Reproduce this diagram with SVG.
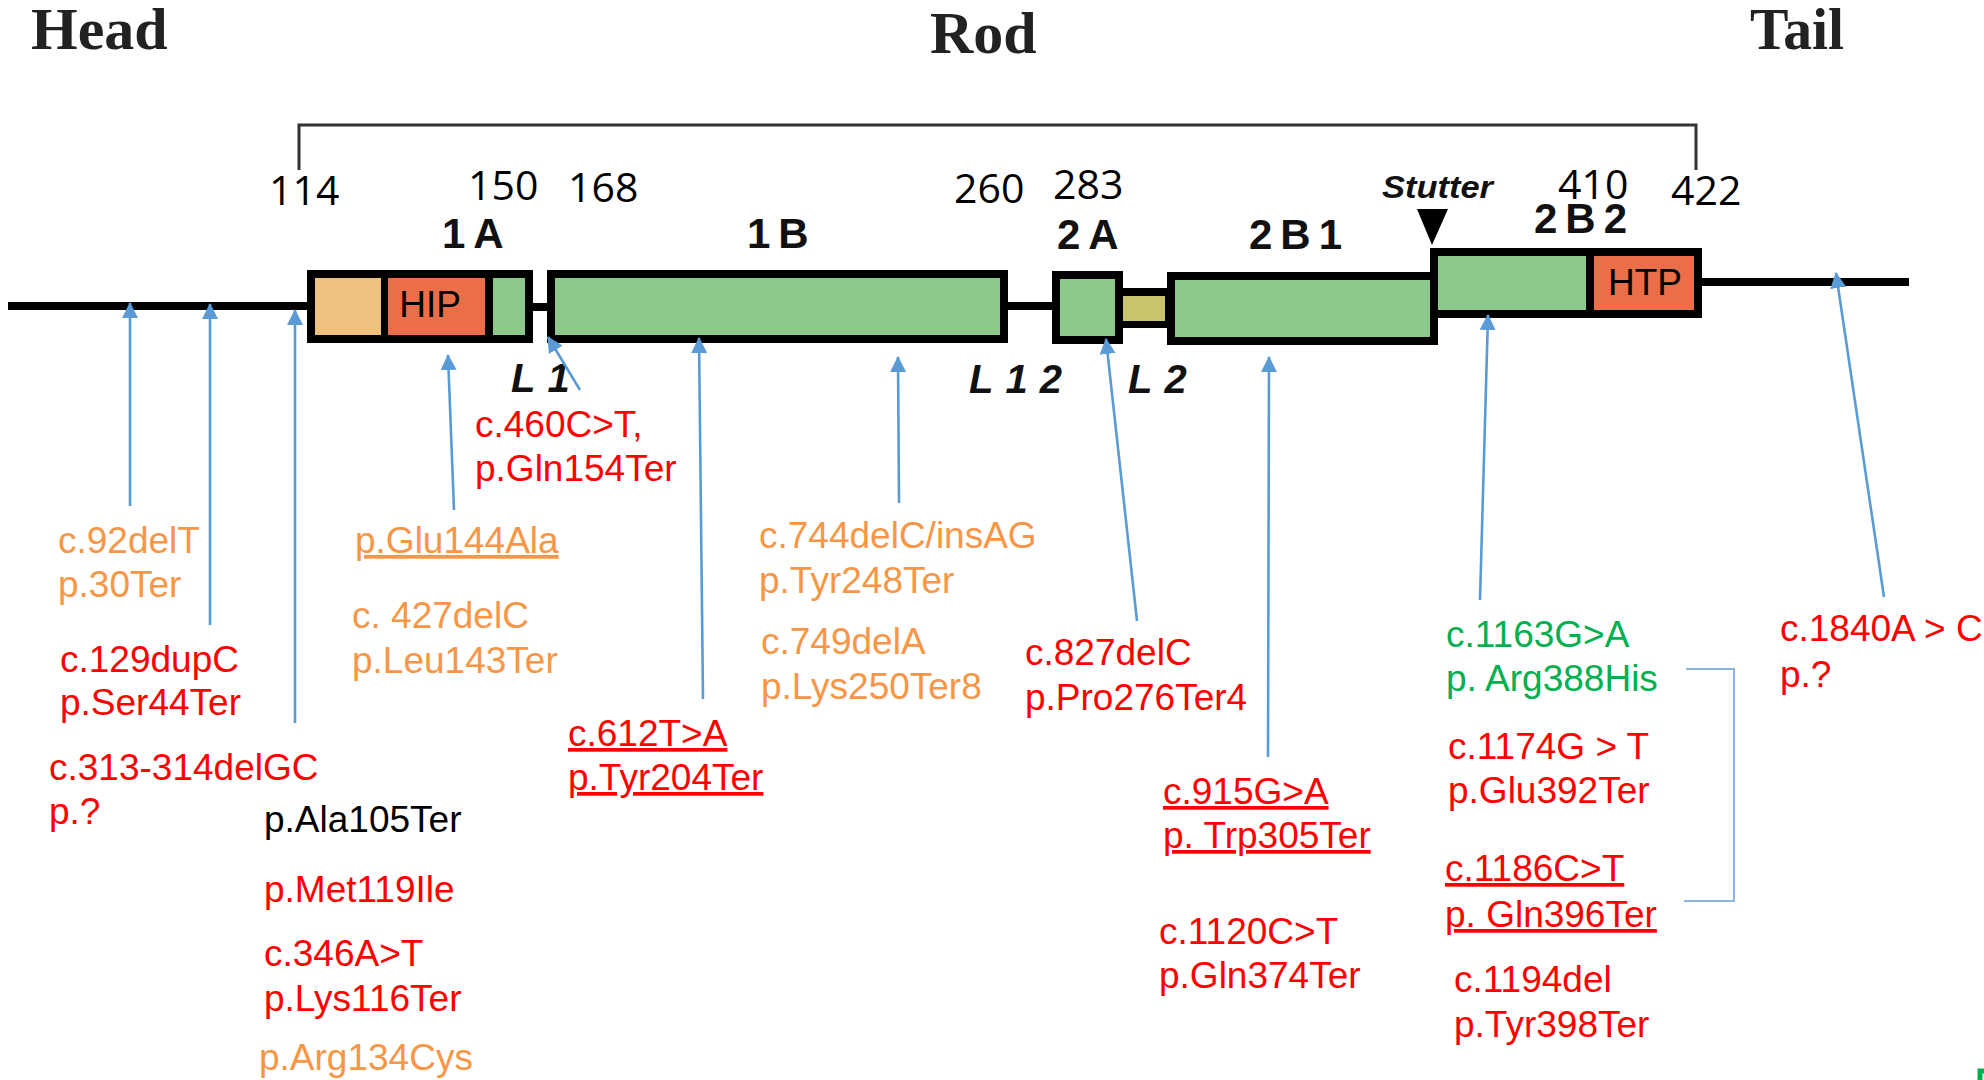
<svg xmlns="http://www.w3.org/2000/svg" width="1984" height="1080" viewBox="0 0 1984 1080">
<defs>
<style>
.hdr{font-family:"Liberation Serif",serif;font-weight:bold;font-size:60px;fill:#222}
.num{font-family:"Open Sans","Liberation Sans",sans-serif;font-size:41px;fill:#000}
.dom{font-family:"Liberation Sans",Arial,sans-serif;font-weight:bold;font-size:42px;letter-spacing:8px;fill:#111}
.lnk{font-family:"Liberation Sans",Arial,sans-serif;font-weight:bold;font-style:italic;font-size:40px;letter-spacing:12px;fill:#111}
.box{font-family:"Liberation Sans",Arial,sans-serif;font-size:37px;fill:#000;text-anchor:middle}
.t{font-family:"Liberation Sans",Arial,sans-serif;font-size:37px}
.r{fill:#FF0000}
.o{fill:#F79646}
.g{fill:#00B050}
.k{fill:#000}
.u{text-decoration:underline}
.blk{fill:#000}
.grn{fill:#8DC88B}
.tan{fill:#EEC27E}
.hp{fill:#EA6E48}
.kh{fill:#C8C46E}
.ln{stroke:#000;stroke-width:8;fill:none}
.arr{stroke:#5B9BD5;stroke-width:2.6;fill:none;marker-end:url(#ah)}
</style>
<marker id="ah" markerUnits="userSpaceOnUse" markerWidth="16" markerHeight="16" viewBox="0 0 16 16" refX="15" refY="8" orient="auto">
<path d="M0,0 L16,8 L0,16 Z" fill="#5B9BD5"/>
</marker>
</defs>
<rect x="0" y="0" width="1984" height="1080" fill="#FFFFFF"/>

<g id="headers">
<text class="hdr" x="31" y="49">Head</text>
<text class="hdr" x="930" y="53">Rod</text>
<text class="hdr" x="1750" y="49" textLength="94" lengthAdjust="spacingAndGlyphs">Tail</text>
</g>

<g id="bracket">
<path d="M299,170 V125 H1696 V170" stroke="#333" stroke-width="3" fill="none"/>
</g>

<g id="positions">
<text class="num" x="269" y="205">114</text>
<text class="num" x="468" y="200">150</text>
<text class="num" x="568" y="202">168</text>
<text class="num" x="954" y="203">260</text>
<text class="num" x="1053" y="199">283</text>
<text class="num" x="1558" y="199">410</text>
<text class="num" x="1671" y="205">422</text>
</g>

<g id="backbone">
<line class="ln" x1="8" y1="306" x2="310" y2="306"/>
<line class="ln" x1="530" y1="307" x2="550" y2="307" stroke-width="9"/>
<line class="ln" x1="1005" y1="306" x2="1055" y2="306"/>
<line class="ln" x1="1699" y1="282" x2="1909" y2="282"/>
</g>

<g id="domain-1A">
<rect class="blk" x="307" y="270" width="226" height="73"/>
<rect class="tan" x="315" y="278" width="66" height="57"/>
<rect class="hp" x="388" y="278" width="97" height="57"/>
<rect class="grn" x="493" y="278" width="32" height="57"/>
<text class="box" x="430" y="317">HIP</text>
<text class="dom" x="442" y="248">1A</text>
</g>

<g id="domain-1B">
<rect class="blk" x="547" y="270" width="461" height="73"/>
<rect class="grn" x="555" y="278" width="445" height="57"/>
<text class="dom" x="747" y="248">1B</text>
</g>

<g id="domain-2A">
<rect class="blk" x="1052" y="271" width="71" height="73"/>
<rect class="grn" x="1060" y="279" width="55" height="57"/>
<text class="dom" x="1057" y="249">2A</text>
</g>

<g id="linker-L2">
<rect class="blk" x="1120" y="288" width="50" height="40"/>
<rect class="kh" x="1123" y="296" width="42" height="25"/>
</g>

<g id="domain-2B1">
<rect class="blk" x="1167" y="272" width="271" height="73"/>
<rect class="grn" x="1175" y="280" width="255" height="57"/>
<text class="dom" x="1249" y="249">2B1</text>
</g>

<g id="domain-2B2">
<rect class="blk" x="1430" y="248" width="272" height="70"/>
<rect class="grn" x="1438" y="256" width="148" height="54"/>
<rect class="hp" x="1594" y="256" width="100" height="54"/>
<text class="box" x="1645" y="295">HTP</text>
<text class="dom" x="1534" y="233">2B2</text>
</g>

<g id="stutter">
<text x="1382" y="198" font-family="Liberation Sans, Arial, sans-serif" font-weight="bold" font-style="italic" font-size="32" fill="#111" textLength="111" lengthAdjust="spacingAndGlyphs">Stutter</text>
<path d="M1417,209 L1448,209 L1432,245 Z" fill="#000"/>
</g>

<g id="linker-labels">
<text class="lnk" x="511" y="392">L1</text>
<text class="lnk" x="969" y="393">L12</text>
<text class="lnk" x="1128" y="393">L2</text>
</g>

<g id="connectors">
<line class="arr" x1="130" y1="506" x2="130" y2="303"/>
<line class="arr" x1="210" y1="625" x2="210" y2="304"/>
<line class="arr" x1="295" y1="723" x2="295" y2="310"/>
<line class="arr" x1="454" y1="510" x2="448" y2="355"/>
<line class="arr" x1="580" y1="390" x2="548" y2="337"/>
<line class="arr" x1="703" y1="699" x2="699" y2="338"/>
<line class="arr" x1="899" y1="503" x2="898" y2="357"/>
<line class="arr" x1="1137" y1="621" x2="1106" y2="339"/>
<line class="arr" x1="1268" y1="757" x2="1269" y2="357"/>
<line class="arr" x1="1480" y1="600" x2="1488" y2="315"/>
<line class="arr" x1="1884" y1="597" x2="1836" y2="273"/>
<path d="M1686,669 H1734 V901 H1684" stroke="#8EB4E3" stroke-width="2" fill="none"/>
</g>

<g id="v-92delT"><text class="t o" x="58" y="553">c.92delT</text><text class="t o" x="58" y="597">p.30Ter</text></g>
<g id="v-129dupC"><text class="t r" x="60" y="672">c.129dupC</text><text class="t r" x="60" y="715">p.Ser44Ter</text></g>
<g id="v-313delGC"><text class="t r" x="49" y="780">c.313-314delGC</text><text class="t r" x="49" y="824">p.?</text></g>
<g id="v-Ala105Ter"><text class="t k" x="264" y="832">p.Ala105Ter</text></g>
<g id="v-Met119Ile"><text class="t r" x="264" y="902">p.Met119Ile</text></g>
<g id="v-346AT"><text class="t r" x="264" y="966">c.346A&gt;T</text><text class="t r" x="264" y="1011">p.Lys116Ter</text></g>
<g id="v-Arg134Cys"><text class="t o" x="259" y="1070">p.Arg134Cys</text></g>
<g id="v-Glu144Ala"><text class="t o u" x="355" y="553">p.Glu144Ala</text></g>
<g id="v-427delC"><text class="t o" x="352" y="628">c. 427delC</text><text class="t o" x="352" y="673">p.Leu143Ter</text></g>
<g id="v-460CT"><text class="t r" x="475" y="437">c.460C&gt;T,</text><text class="t r" x="475" y="481">p.Gln154Ter</text></g>
<g id="v-612TA"><text class="t r u" x="568" y="746">c.612T&gt;A</text><text class="t r u" x="568" y="790">p.Tyr204Ter</text></g>
<g id="v-744del"><text class="t o" x="759" y="548">c.744delC/insAG</text><text class="t o" x="759" y="593">p.Tyr248Ter</text></g>
<g id="v-749delA"><text class="t o" x="761" y="654">c.749delA</text><text class="t o" x="761" y="699">p.Lys250Ter8</text></g>
<g id="v-827delC"><text class="t r" x="1025" y="665">c.827delC</text><text class="t r" x="1025" y="710">p.Pro276Ter4</text></g>
<g id="v-915GA"><text class="t r u" x="1163" y="804">c.915G&gt;A</text><text class="t r u" x="1163" y="848">p. Trp305Ter</text></g>
<g id="v-1120CT"><text class="t r" x="1159" y="944">c.1120C&gt;T</text><text class="t r" x="1159" y="988">p.Gln374Ter</text></g>
<g id="v-1163GA"><text class="t g" x="1446" y="647">c.1163G&gt;A</text><text class="t g" x="1446" y="691">p. Arg388His</text></g>
<g id="v-1174GT"><text class="t r" x="1448" y="759">c.1174G &gt; T</text><text class="t r" x="1448" y="803">p.Glu392Ter</text></g>
<g id="v-1186CT"><text class="t r u" x="1445" y="881">c.1186C&gt;T</text><text class="t r u" x="1445" y="927">p. Gln396Ter</text></g>
<g id="v-1194del"><text class="t r" x="1454" y="992">c.1194del</text><text class="t r" x="1454" y="1037">p.Tyr398Ter</text></g>
<g id="v-1840AC"><text class="t r" x="1780" y="641">c.1840A &gt; C</text><text class="t r" x="1780" y="687">p.?</text></g>

<path d="M1980,1080 V1071 H1984" stroke="#00B050" stroke-width="5" fill="none"/>
</svg>
